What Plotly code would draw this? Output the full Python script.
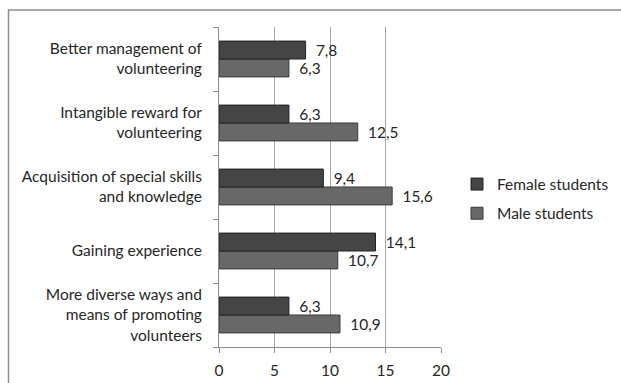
import plotly.graph_objects as go

categories = [
    "Better management of<br>volunteering",
    "Intangible reward for<br>volunteering",
    "Acquisition of special skills<br>and knowledge",
    "Gaining experience",
    "More diverse ways and<br>means of promoting<br>volunteers",
]
female = [7.8, 6.3, 9.4, 14.1, 6.3]
male = [6.3, 12.5, 15.6, 10.7, 10.9]
x_ticks = [0, 5, 10, 15, 20]

PAD = "<span style='color:rgba(0,0,0,0)'>..</span>"

def fmt(v):
    return PAD + f"{v:.1f}".replace(".", ",")

W, H = 621, 383
L, R, T, B = 219, 180, 27, 36
pw, ph = W - L - R, H - T - B

def px_x(p):
    return (p - L) / pw

def px_y(p):
    return 1 - (p - T) / ph

font = "Lato, 'Open Sans', sans-serif"
FS = 15.5
TXT = "#262626"

fig = go.Figure()
fig.add_trace(go.Bar(
    y=categories, x=male, orientation="h", name="Male students",
    marker=dict(color="#686868", line=dict(color="#3a3a3a", width=1)),
    text=[fmt(v) for v in male], textposition="outside", cliponaxis=False,
    textfont=dict(size=FS, color=TXT, family=font),
    legendgroup="m", legendrank=2,
))
fig.add_trace(go.Bar(
    y=categories, x=female, orientation="h", name="Female students",
    marker=dict(color="#454545", line=dict(color="#222222", width=1)),
    text=[fmt(v) for v in female], textposition="outside", cliponaxis=False,
    textfont=dict(size=FS, color=TXT, family=font),
    legendgroup="f", legendrank=1,
))

fig.update_layout(
    width=W, height=H,
    margin=dict(l=L, r=R, t=T, b=B, autoexpand=False),
    paper_bgcolor="white", plot_bgcolor="white",
    barmode="group", bargap=0.44, bargroupgap=0,
    font=dict(family=font, size=FS, color=TXT),
    showlegend=True,
    legend=dict(
        x=px_x(457), y=px_y(199), xanchor="left", yanchor="middle",
        traceorder="grouped", tracegroupgap=6,
        font=dict(size=FS, color=TXT, family=font),
        bgcolor="rgba(0,0,0,0)",
    ),
    xaxis=dict(
        range=[0, 20], tickvals=x_ticks, ticktext=[str(v) for v in x_ticks],
        showgrid=True, gridcolor="#a6a6a6", gridwidth=1,
        showline=True, linecolor="#8c8c8c", linewidth=1,
        ticks="outside", ticklen=5, tickcolor="#8c8c8c",
        ticklabelstandoff=4, automargin=False,
        zeroline=False, fixedrange=True,
        tickfont=dict(size=FS, color=TXT, family=font),
    ),
    yaxis=dict(
        categoryorder="array", categoryarray=categories[::-1],
        showline=True, linecolor="#8c8c8c", linewidth=1,
        ticks="outside", ticklen=5, tickcolor="#8c8c8c",
        tickson="boundaries", showgrid=False,
        ticklabelstandoff=13, automargin=False,
        tickfont=dict(size=FS, color=TXT, family=font),
        fixedrange=True,
    ),
    shapes=[dict(
        type="rect", xref="paper", yref="paper",
        x0=px_x(8.5), x1=px_x(640), y0=px_y(400), y1=px_y(10),
        line=dict(color="#8c8c8c", width=1.5), fillcolor="rgba(0,0,0,0)",
        layer="below",
    )],
)

fig.write_html("out.html")
